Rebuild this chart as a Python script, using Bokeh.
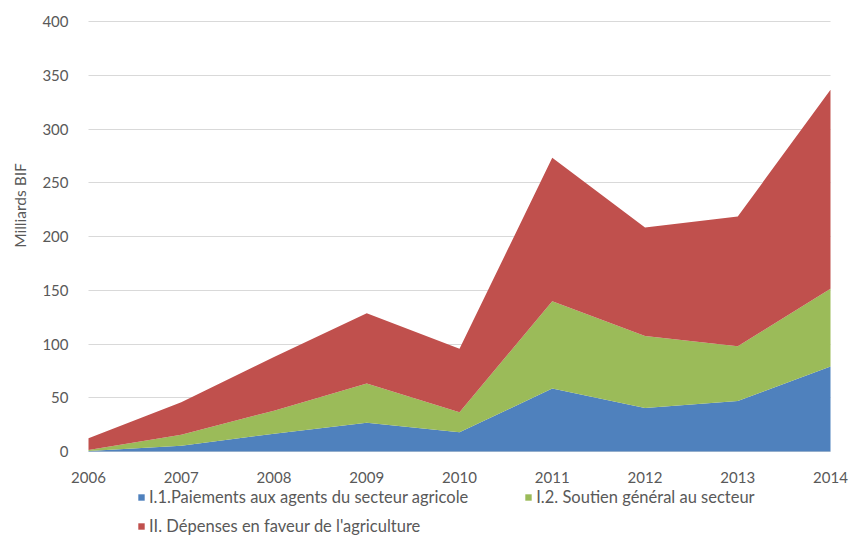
from bokeh.plotting import figure
from bokeh.models import ColumnDataSource, Legend, LegendItem, Label, FixedTicker, Range1d
from bokeh.embed import file_html
from bokeh.resources import INLINE

years = [2006, 2007, 2008, 2009, 2010, 2011, 2012, 2013, 2014]
paiements = [0.4, 5.3, 16.5, 26.7, 18.0, 58.5, 40.5, 47.0, 79.0]
soutien = [1.1, 10.2, 21.5, 36.5, 18.6, 81.3, 67.0, 50.8, 72.3]
depenses = [10.9, 30.4, 50.0, 65.5, 58.9, 133.4, 100.9, 120.8, 185.2]
series_names = ["I.1.Paiements aux agents du secteur agricole",
                "I.2. Soutien général au secteur",
                "II. Dépenses en faveur de l'agriculture"]
colors = ["#4F81BD", "#9BBB59", "#C0504D"]
y_ticks = [0, 50, 100, 150, 200, 250, 300, 350, 400]

FONT = "Lato"
TXT = "#595959"

# canvas / plot-area geometry in pixels
W, H = 849, 535
PL, PR, PT, PB = 88, 830, 21, 451
YMAX = 400

xs = (PR - PL) / (years[-1] - years[0])
ys = (PB - PT) / YMAX
x_range = Range1d(years[0] - PL / xs, years[-1] + (W - PR) / xs)
y_range = Range1d(-(H - PB) / ys, YMAX + PT / ys)

src = ColumnDataSource(dict(x=years, a=paiements, b=soutien, c=depenses))

p = figure(width=W, height=H, output_backend="svg", toolbar_location=None,
           x_range=x_range, y_range=y_range,
           min_border_left=0, min_border_right=0, min_border_top=0, min_border_bottom=0)
p.outline_line_color = None

p.xgrid.grid_line_color = None
p.ygrid.ticker = FixedTicker(ticks=y_ticks)
p.ygrid.bounds = (0, YMAX)
p.ygrid.cross_bounds = (years[0], years[-1])
p.ygrid.grid_line_color = "#D9D9D9"
p.ygrid.grid_line_width = 1

rs = p.varea_stack(stackers=["a", "b", "c"], x="x", color=colors, source=src)

p.xaxis.ticker = FixedTicker(ticks=years)
p.yaxis.ticker = FixedTicker(ticks=y_ticks)
p.xaxis.fixed_location = 0
p.yaxis.fixed_location = years[0]
p.xaxis.bounds = (years[0], years[-1])
p.yaxis.bounds = (0, YMAX)
for ax in (p.xaxis, p.yaxis):
    ax.axis_line_color = None
    ax.major_tick_line_color = None
    ax.minor_tick_line_color = None
    ax.major_label_text_font = FONT
    ax.major_label_text_font_size = "15px"
    ax.major_label_text_color = TXT
p.xaxis.major_label_standoff = 14
p.yaxis.major_label_standoff = 14

ylab = Label(x=19, y=H - 205, x_units="screen", y_units="screen", text="Milliards BIF",
             angle=1.5707963, text_align="center", text_baseline="middle",
             text_font=FONT, text_font_size="15.5px", text_color=TXT)
p.add_layout(ylab)

leg1 = Legend(items=[LegendItem(label=series_names[0], renderers=[rs[0]]),
                     LegendItem(label=series_names[1], renderers=[rs[1]])],
              orientation="horizontal", location=(137, H - 507), spacing=56)
leg2 = Legend(items=[LegendItem(label=series_names[2], renderers=[rs[2]])],
              orientation="horizontal", location=(137, H - 536))
for lg in (leg1, leg2):
    lg.padding = 0
    lg.margin = 0
    lg.border_line_alpha = 0
    lg.background_fill_alpha = 0
    lg.label_text_font = FONT
    lg.label_text_font_size = "16.5px"
    lg.label_text_color = TXT
    lg.glyph_width = 8
    lg.glyph_height = 8
    lg.label_height = 20
    lg.label_standoff = 4
    p.add_layout(lg)

open("out.html", "w").write(file_html(p, INLINE))
